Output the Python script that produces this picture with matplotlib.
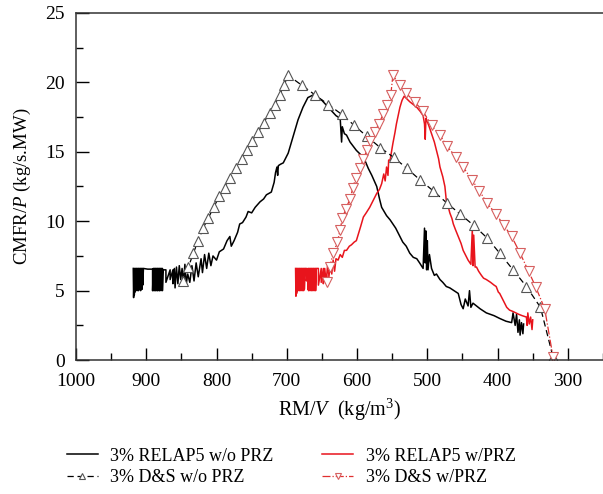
import matplotlib
matplotlib.use('Agg')
import matplotlib.pyplot as plt
from matplotlib.ticker import MultipleLocator

plt.rcParams['font.family'] = ['Liberation Serif', 'DejaVu Serif']
plt.rcParams['mathtext.fontset'] = 'custom'
plt.rcParams['mathtext.rm'] = 'Liberation Serif'
plt.rcParams['mathtext.it'] = 'Liberation Serif:italic'

# RELAP5 w/o PRZ (black solid)
relap_wo_x = [918.5, 918, 917, 917, 916, 916, 915, 915, 914, 914, 913, 913, 912, 912, 911, 911,
              910, 910, 909, 909, 908, 908, 907, 907, 906, 906, 905, 905, 904, 898, 891,
              891, 890, 890, 889, 889, 888, 888, 887, 887, 886, 886, 885, 885, 884, 884,
              883, 883, 882, 882, 881, 881, 880, 880, 879, 879, 878, 878, 877, 877, 876,
              872, 872, 866, 866, 862, 862, 860,
              859, 857, 855, 853, 851, 849, 847, 845, 843, 841, 838, 835, 832, 829, 826, 822,
              820, 817, 814, 811, 808, 805, 800, 796, 790, 785, 781, 779, 775, 770, 767, 763,
              758, 755, 750, 745, 738, 733, 729, 722, 718, 716, 714, 713, 712, 709, 705, 698,
              691, 684, 677, 670, 662, 656, 650, 639, 630, 624, 623, 622, 621, 618, 615, 610,
              601, 595, 589, 584, 579, 572, 568, 565, 558, 553, 549, 545, 539, 535, 530, 525,
              520, 515, 511, 506, 504, 503, 502, 501, 500, 499, 497, 494, 490, 487, 482, 478,
              473, 468, 462, 456, 452, 449, 446, 442, 440, 438, 435, 425, 416, 405, 397, 388,
              380, 378, 375, 373, 371, 369, 368, 366, 364, 363]
relap_wo_y = [6.6, 4.5, 6.6, 4.7, 6.6, 4.9, 6.6, 5.0, 6.6, 5.1, 6.6, 5.0, 6.6, 5.2, 6.6, 5.0,
              6.6, 5.1, 6.6, 5.3, 6.6, 5.0, 6.6, 5.2, 6.6, 5.1, 6.6, 5.4, 6.6, 6.55, 6.55,
              5.0, 6.6, 5.0, 6.6, 5.1, 6.6, 5.0, 6.6, 5.0, 6.6, 5.1, 6.6, 5.0, 6.6, 5.0,
              6.6, 5.1, 6.6, 5.0, 6.6, 5.0, 6.6, 5.1, 6.6, 5.0, 6.6, 5.2, 6.6, 5.0, 6.5,
              6.5, 5.6, 6.5, 5.8, 6.5, 5.5, 6.6,
              5.2, 6.7, 5.5, 6.8, 5.8, 6.6, 5.6, 6.9, 5.5, 6.2, 5.6, 6.8, 5.7, 7.0, 6.0, 7.3,
              6.3, 7.6, 6.6, 7.7, 6.8, 7.5, 7.2, 7.8, 8.0, 8.6, 8.9, 8.2, 8.6, 9.2, 9.8, 9.9,
              10.3, 10.7, 10.6, 11.0, 11.4, 11.6, 11.9, 12.1, 12.8, 13.5, 13.9, 13.3, 14.0, 14.1, 14.2, 14.9,
              16.1, 17.3, 18.2, 18.9, 19.1, 18.9, 18.7, 18.1, 17.6, 17.4, 16.5, 15.7, 16.8, 16.3, 16.2, 15.7,
              15.1, 14.8, 14.4, 13.8, 13.3, 12.5, 11.6, 11.0, 10.4, 10.1, 9.8, 9.5, 8.9, 8.5, 8.2, 7.7,
              7.4, 7.3, 7.0, 6.6, 9.5, 7.0, 9.3, 6.5, 8.6, 6.5, 7.6, 6.6, 6.1, 6.2, 5.8, 5.6,
              5.3, 5.2, 5.0, 4.8, 4.0, 3.7, 4.4, 3.9, 5.0, 3.8, 4.1, 3.7, 3.4, 3.2, 3.0, 2.8,
              2.7, 3.4, 2.5, 3.3, 2.0, 2.9, 1.8, 2.7, 1.9, 2.6]

# RELAP5 w/PRZ (red solid)
relap_w_x = [687.5, 687, 686, 686, 685, 685, 684, 684, 683, 683, 682, 682, 681, 681, 680, 680,
             679, 679, 678, 678, 677, 677, 676, 676, 675, 675, 674, 672, 672, 670,
             670, 669, 669, 668, 668, 667, 667, 666, 666, 665, 665, 664, 664, 663, 663,
             662, 662, 661, 661, 660, 660, 659, 659, 658, 655, 655, 651, 651, 648, 648,
             646, 644, 642, 640, 638, 636, 634, 632, 630, 627, 624, 621, 618, 615, 611, 608,
             604, 601, 598, 595, 591, 587, 582, 577, 572, 568, 565, 562, 560, 558, 556, 555,
             553, 549, 546, 544, 539, 536, 533, 529, 525, 520, 515, 510, 506, 504, 503, 502,
             501, 498, 494, 490, 487, 484, 482, 478, 475, 473, 470, 468, 465, 463, 460, 456,
             452, 449, 445, 442, 438, 436, 435, 434, 432, 430, 427, 423, 420, 416, 410, 405,
             402, 399, 397, 392, 387, 383, 378, 370, 365, 359, 358, 357, 355, 353, 351, 350]
relap_w_y = [6.6, 4.6, 6.6, 4.8, 6.6, 5.0, 6.6, 5.0, 6.6, 5.1, 6.6, 5.0, 6.6, 5.2, 6.6, 5.0,
             6.6, 5.1, 6.6, 5.0, 6.6, 5.2, 6.6, 5.0, 6.6, 5.1, 6.6, 6.6, 5.7, 6.6,
             5.1, 6.6, 5.0, 6.6, 5.1, 6.6, 5.0, 6.6, 5.1, 6.6, 5.0, 6.6, 5.2, 6.6, 5.0,
             6.6, 5.1, 6.6, 5.0, 6.6, 5.1, 6.6, 5.0, 6.6, 6.6, 5.4, 6.6, 5.6, 6.6, 5.5,
             6.6, 5.6, 6.8, 6.0, 7.0, 6.2, 7.2, 6.4, 7.3, 7.2, 7.6, 7.4, 7.9, 7.9, 8.2, 8.3,
             8.5, 8.6, 9.1, 9.6, 10.3, 10.6, 11.0, 11.5, 12.0, 12.3, 12.7, 13.4, 12.9, 13.9, 13.3, 14.4,
             14.4, 15.6, 16.4, 17.0, 18.2, 18.7, 19.0, 18.8, 18.6, 18.4, 18.2, 17.9, 17.6, 17.0, 15.9, 17.4,
             17.3, 16.9, 16.3, 15.7, 15.1, 14.5, 13.9, 13.2, 12.5, 11.5, 11.0, 10.6, 10.2, 9.8, 9.4, 8.9,
             8.4, 7.9, 7.5, 7.2, 6.9, 9.4, 6.8, 9.0, 6.7, 6.7, 6.4, 6.1, 5.9, 5.8, 5.6, 5.4,
             5.3, 4.9, 4.8, 4.3, 3.8, 3.6, 3.5, 3.3, 3.2, 3.1, 2.5, 3.4, 2.6, 3.1, 2.2, 2.9]

# D&S w/o PRZ (gray up triangles)
ds_wo_x = [848, 840, 833, 826, 819, 812, 804, 796, 788, 781, 772, 764, 757, 749, 741, 733,
           724, 717, 710, 704, 698, 679, 660, 641, 622, 604, 586, 567, 548, 529, 511, 492,
           472, 453, 434, 415, 397, 378, 359, 339, 321]
ds_wo_y = [5.7, 6.7, 7.7, 8.6, 9.5, 10.2, 11.0, 11.8, 12.4, 13.1, 13.8, 14.5, 15.1, 15.8, 16.4, 17.1,
           17.8, 18.4, 19.1, 19.8, 20.5, 19.8, 19.1, 18.4, 17.7, 16.9, 16.1, 15.3, 14.6, 13.8, 13.0, 12.2,
           11.3, 10.5, 9.7, 8.8, 7.7, 6.5, 5.3, 3.8, 0.2]

# D&S w/PRZ (red down triangles)
ds_w_x = [643, 639, 634, 628, 624, 621, 616, 610, 606, 602, 596, 591, 586, 581, 575, 569,
          563, 557, 552, 549, 539, 530, 518, 506, 494, 482, 472, 459, 449, 437, 426, 415,
          402, 391, 380, 368, 356, 346, 333, 321]
ds_w_y = [5.6, 6.7, 7.7, 8.5, 9.4, 10.2, 10.9, 11.6, 12.4, 13.1, 13.8, 14.5, 15.1, 15.8, 16.4, 17.0,
          17.7, 18.4, 19.1, 20.5, 19.8, 19.2, 18.6, 17.9, 16.9, 16.2, 15.4, 14.6, 13.9, 13.0, 12.2, 11.3,
          10.5, 9.7, 8.9, 7.7, 6.4, 5.3, 3.7, 0.2]

labels = ['3% RELAP5 w/o PRZ', '3% D&S w/o PRZ', '3% RELAP5 w/PRZ', '3% D&S w/PRZ']

fig = plt.figure(figsize=(6.03, 4.94), dpi=100)
ax = fig.add_axes([0.126, 0.271, 0.874, 0.703])

l1, = ax.plot(relap_wo_x, relap_wo_y, color='black', lw=1.1)
l3, = ax.plot(relap_w_x, relap_w_y, color='#e8141c', lw=1.1)
l2, = ax.plot(ds_wo_x, ds_wo_y, color='black', lw=0.9, ls=(0, (5, 3)),
              marker='^', ms=7, mfc='white', mec='#555555', mew=0.8)
l4, = ax.plot(ds_w_x, ds_w_y, color='#e03030', lw=0.9, ls='-.',
              marker='v', ms=7, mfc='white', mec='#d66060', mew=0.8)

ax.set_xlim(1000, 250)
ax.set_ylim(0, 25)
ax.xaxis.set_minor_locator(MultipleLocator(50))
ax.yaxis.set_major_locator(MultipleLocator(5))
ax.yaxis.set_minor_locator(MultipleLocator(2.5))
ax.set_xticks([1000, 900, 800, 700, 600, 500, 400, 300])
ax.tick_params(which='major', direction='in', length=9, width=1, labelsize=14)
ax.tick_params(axis='x', which='major', pad=9)
ax.tick_params(axis='y', which='major', pad=8)
ax.tick_params(which='minor', direction='in', length=5, width=1)
ax.tick_params(top=False, right=False, which='both')
ax.spines['right'].set_visible(False)
for s in ['top', 'left', 'bottom']:
    ax.spines[s].set_color('#333333')
    ax.spines[s].set_linewidth(1.1)

ax.set_xlabel('RM/$V$  (kg/m$^3$)', fontsize=14.5, labelpad=5)
ax.set_ylabel('CMFR/$P$ (kg/s.MW)', fontsize=13.5, labelpad=9)

fig.legend([l1, l2, l3, l4], labels, loc='center', bbox_to_anchor=(0.483, 0.055),
           ncol=2, frameon=False, fontsize=13, handlelength=1.7, columnspacing=2.7,
           labelspacing=0.25, handletextpad=0.7, markerscale=0.65)

fig.savefig('out.png', dpi=100)
